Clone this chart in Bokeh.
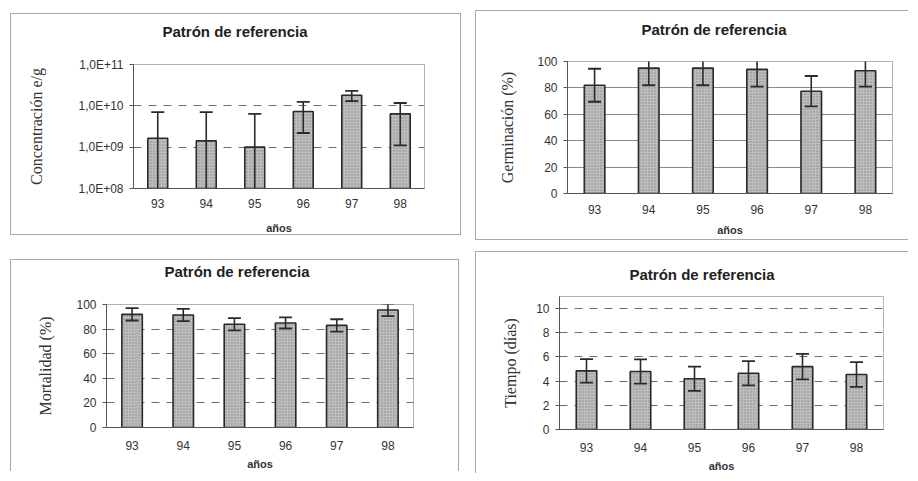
from bokeh.plotting import figure
from bokeh.layouts import column, row
from bokeh.models import ColumnDataSource, FixedTicker, CustomJSTickFormatter, Range1d
from bokeh.embed import file_html
from bokeh.resources import INLINE

# ---------------- data ----------------
years = ["93", "94", "95", "96", "97", "98"]

conc = [1.64e9, 1.42e9, 1.0e9, 7.3e9, 1.8e10, 6.4e9]
conc_err = [5.4e9, 5.6e9, 5.4e9, 5.1e9, 5.0e9, 5.3e9]
conc_ticks = [1e8, 1e9, 1e10, 1e11]

germ = [82, 95, 95, 94, 77.5, 93]
germ_err = [12.5, 13, 13, 13, 11.5, 12]
germ_ticks = [0, 20, 40, 60, 80, 100]

mort = [92, 91.5, 84, 85, 83, 95.5]
mort_err = [5, 5, 5, 4.5, 5, 5]
mort_ticks = [0, 20, 40, 60, 80, 100]

tiempo = [4.85, 4.8, 4.2, 4.65, 5.2, 4.55]
tiempo_err = [0.97, 1.0, 1.0, 1.0, 1.05, 1.02]
tiempo_ticks = [0, 2, 4, 6, 8, 10]

title_text = "Patrón de referencia"
xlabel = "años"

SANS = "Liberation Sans"
SERIF = "Liberation Serif"


def panel(values, errors, ylabel, y_start, y_end, ticks, *, width, height,
          borders, margin, bar_width, grid_dash, grid_color,
          title_offset, title_pad, ylabel_standoff, xtick_standoff, xlab_standoff,
          border_css, log=False):
    kw = dict(y_axis_type="log") if log else {}
    p = figure(x_range=years, y_range=Range1d(y_start, y_end),
               width=width, height=height, output_backend="svg",
               toolbar_location=None, tools="",
               min_border_left=borders[0], min_border_right=borders[1],
               min_border_top=borders[2], min_border_bottom=borders[3],
               margin=margin, styles=border_css, **kw)
    lower = [v - e for v, e in zip(values, errors)]
    upper = [v + e for v, e in zip(values, errors)]
    seg_low = [max(l, y_start) for l in lower]
    src = ColumnDataSource(dict(x=years, top=values, lower=lower, upper=upper,
                                seg_low=seg_low))
    p.vbar(x="x", top="top", bottom=y_start, width=bar_width, source=src,
           fill_color="#bdbdbd", hatch_pattern="dot", hatch_color="#7d7d7d",
           hatch_scale=3, hatch_weight=1, hatch_alpha=0.8,
           line_color="#2a2a2a", line_width=1.6)
    p.segment(x0="x", y0="seg_low", x1="x", y1="upper", source=src,
              line_color="#2a2a2a", line_width=1.6)
    for col in ("upper", "lower"):
        p.rect(x="x", y=col, width=13, height=1.8, width_units="screen",
               height_units="screen", source=src, fill_color="#2a2a2a",
               line_color=None)

    p.title.text = title_text
    p.title.align = "left"
    p.title.offset = title_offset
    p.title.standoff = 0
    p.title.padding = (0, 0, 0, title_pad)
    p.title.text_font = SANS
    p.title.text_font_size = "15px"
    p.title.text_font_style = "bold"
    p.title.text_color = "#222222"

    p.outline_line_color = "#666666"
    p.outline_line_dash = "1 1"
    p.outline_line_width = 1
    p.background_fill_color = "white"
    p.border_fill_color = "white"

    p.xgrid.grid_line_color = None
    p.ygrid.grid_line_color = grid_color
    p.ygrid.grid_line_dash = grid_dash
    p.ygrid.ticker = FixedTicker(ticks=ticks)

    ya = p.yaxis[0]
    ya.ticker = FixedTicker(ticks=ticks)
    if log:
        ya.formatter = CustomJSTickFormatter(
            code="return '1,0E+' + String(Math.round(Math.log10(tick))).padStart(2, '0');")
    ya.axis_label = ylabel
    ya.axis_label_text_font = SERIF
    ya.axis_label_text_font_size = "16px"
    ya.axis_label_text_font_style = "normal"
    ya.axis_label_text_color = "#333333"
    ya.axis_label_standoff = ylabel_standoff
    ya.major_label_text_font = SANS
    ya.major_label_text_font_size = "12px"
    ya.major_label_text_color = "#333333"
    ya.major_tick_out = 4
    ya.major_tick_in = 0
    ya.minor_tick_line_color = None
    ya.major_label_standoff = 6
    ya.axis_line_color = "#555555"
    ya.major_tick_line_color = "#555555"

    xa = p.xaxis[0]
    xa.axis_label = xlabel
    xa.axis_label_text_font = SANS
    xa.axis_label_text_font_size = "11px"
    xa.axis_label_text_font_style = "bold"
    xa.axis_label_text_color = "#333333"
    xa.axis_label_standoff = xlab_standoff
    xa.major_label_text_font = SANS
    xa.major_label_text_font_size = "12px"
    xa.major_label_text_color = "#333333"
    xa.major_tick_line_color = None
    xa.major_tick_out = 0
    xa.major_tick_in = 0
    xa.major_label_standoff = xtick_standoff
    xa.axis_line_color = "#555555"
    return p


B = "1px solid #a8a8a8"

# top row: frames share top border (50) and bottom border (47)
p1 = panel(conc, conc_err, "Concentración e/g", conc_ticks[0], conc_ticks[-1], conc_ticks,
           width=451, height=222, borders=(122, 38, 50, 47), margin=(13, 0, 16, 10),
           bar_width=0.41, grid_dash="8 7", grid_color="#6e6e6e",
           title_offset=29, title_pad=25, ylabel_standoff=30,
           xtick_standoff=10, xlab_standoff=11,
           border_css={"border": B, "box-sizing": "border-box"}, log=True)

p2 = panel(germ, germ_err, "Germinación (%)", 0, 100, germ_ticks,
           width=433, height=230, borders=(91, 17, 50, 47), margin=(10, 0, 11, 14),
           bar_width=0.38, grid_dash="solid", grid_color="#8a8a8a",
           title_offset=74, title_pad=24, ylabel_standoff=18,
           xtick_standoff=11, xlab_standoff=7,
           border_css={"border-top": B, "border-left": B, "border-bottom": B,
                       "box-sizing": "border-box"})

# bottom row: frames share top border (44) and bottom border (43)
p3 = panel(mort, mort_err, "Mortalidad (%)", 0, 100, mort_ticks,
           width=449, height=212, borders=(95, 47, 44, 43), margin=(8, 0, 2, 10),
           bar_width=0.40, grid_dash="8 7", grid_color="#6e6e6e",
           title_offset=58, title_pad=25, ylabel_standoff=19,
           xtick_standoff=13, xlab_standoff=5,
           border_css={"border-top": B, "border-left": B, "border-right": B,
                       "box-sizing": "border-box"})

p4 = panel(tiempo, tiempo_err, "Tiempo (días)", 0, 11, tiempo_ticks,
           width=433, height=222, borders=(83, 26, 44, 43), margin=(0, 0, 0, 16),
           bar_width=0.38, grid_dash="8 7", grid_color="#6e6e6e",
           title_offset=70, title_pad=14, ylabel_standoff=14,
           xtick_standoff=13, xlab_standoff=5,
           border_css={"border-top": B, "border-left": B, "box-sizing": "border-box"})

layout = column(row(p1, p2), row(p3, p4))
open("out.html", "w").write(file_html(layout, INLINE))
